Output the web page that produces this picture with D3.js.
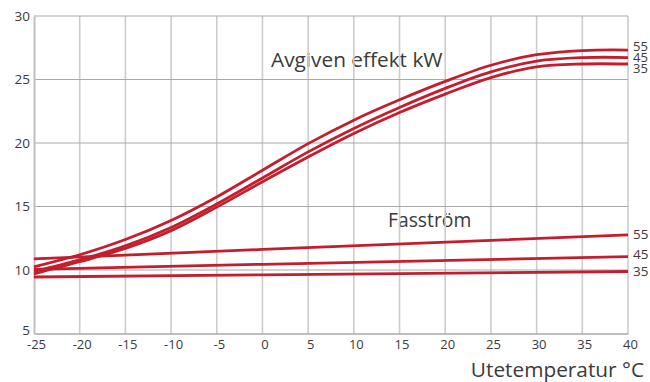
<!DOCTYPE html>
<html><head><meta charset="utf-8">
<script src="https://cdn.jsdelivr.net/npm/d3@7/dist/d3.min.js"></script>
<style>
body{margin:0;background:#fff;}
svg{display:block;font-family:"Open Sans",sans-serif;}
</style></head>
<body><svg id="c" width="650" height="382"></svg>
<script>
const temps = [-25,-20,-15,-10,-5,0,5,10,15,20,25,30,35,40];
const effekt55 = [10.25,11.2,12.4,13.9,15.75,17.85,19.95,21.8,23.4,24.85,26.12,26.95,27.28,27.32];
const effekt45 = [9.9,10.8,11.9,13.35,15.2,17.25,19.3,21.15,22.8,24.3,25.6,26.45,26.72,26.72];
const effekt35 = [9.7,10.65,11.7,13.1,14.95,16.95,18.9,20.75,22.4,23.85,25.15,26.0,26.22,26.22];
const fastemps = [-25,0,40];
const fas55 = [10.87,11.62,12.76];
const fas45 = [10.05,10.45,11.05];
const fas35 = [9.45,9.62,9.88];
const seriesLabels = ["55","45","35"];
const xTicks = [-25,-20,-15,-10,-5,0,5,10,15,20,25,30,35,40];
const yTicks = [5,10,15,20,25,30];
const effektTitle = "Avgiven effekt kW";
const fasTitle = "Fasström";
const xTitle = "Utetemperatur °C";

const svg = d3.select("#c");
const x = d3.scaleLinear().domain([-25,40]).range([34,628]);
const y = d3.scaleLinear().domain([5,30]).range([333.5,16]);
const red = "#c41e2e";
const txt = "#3a3a3a";

// text annotations drawn first (gridlines show through)
svg.append("text").attr("x",271).attr("y",67).attr("font-size",20.8).attr("fill",txt).text(effektTitle);
svg.append("text").attr("x",388).attr("y",227).attr("font-size",19.3).attr("fill",txt).text(fasTitle);

// vertical grid
svg.append("g").selectAll("line").data(xTicks.slice(1)).join("line")
  .attr("x1",d=>x(d)).attr("x2",d=>x(d)).attr("y1",y(30)).attr("y2",y(5))
  .attr("stroke","#cccccc").attr("stroke-width",1.6);
// horizontal grid
svg.append("g").selectAll("line").data(yTicks.slice(1)).join("line")
  .attr("x1",x(-25)).attr("x2",x(40)).attr("y1",d=>y(d)).attr("y2",d=>y(d))
  .attr("stroke","#a9a9a9").attr("stroke-width",1.1);

// axes
const xAxis = svg.append("g").attr("transform",`translate(0,${y(5)})`)
  .call(d3.axisBottom(x).tickValues(xTicks).tickSize(0).tickPadding(6).tickFormat(d=>d<0?"-"+Math.abs(d):d));
xAxis.select(".domain").attr("stroke","#a9a9a9").attr("stroke-width",1.6);
xAxis.selectAll("text").attr("font-size",13).attr("fill",txt).attr("font-family","Open Sans").attr("dx",2);
const yAxis = svg.append("g").attr("transform",`translate(${x(-25)},0)`)
  .call(d3.axisLeft(y).tickValues(yTicks).tickSize(0).tickPadding(4));
yAxis.select(".domain").attr("stroke","#c0c0c0").attr("stroke-width",2);
yAxis.selectAll("text").attr("font-size",13.5).attr("fill",txt).attr("font-family","Open Sans")
  .attr("dy",d=>d===5?"0.05em":"0.32em");

// lines
const lineE = d3.line().x((d,i)=>x(temps[i])).y(d=>y(d)).curve(d3.curveCatmullRom.alpha(0.5));
const lineF = d3.line().x((d,i)=>x(fastemps[i])).y(d=>y(d));
[effekt55,effekt45,effekt35].forEach(s=>{
  svg.append("path").attr("d",lineE(s)).attr("fill","none").attr("stroke",red).attr("stroke-width",2.8);
});
[fas55,fas45,fas35].forEach(s=>{
  svg.append("path").attr("d",lineF(s)).attr("fill","none").attr("stroke",red).attr("stroke-width",2.8);
});

// end labels
const effOff = [-4,-0.5,4.5];
[effekt55,effekt45,effekt35].forEach((s,i)=>{
  svg.append("text").attr("x",633).attr("y",y(s[s.length-1])+effOff[i]).attr("dy","0.35em")
    .attr("font-size",13).attr("fill",txt).text(seriesLabels[i]);
});
const fasOff = [-1,-2.5,-0.5];
[fas55,fas45,fas35].forEach((s,i)=>{
  svg.append("text").attr("x",633).attr("y",y(s[s.length-1])+fasOff[i]).attr("dy","0.35em")
    .attr("font-size",13.5).attr("fill",txt).text(seriesLabels[i]);
});

svg.append("text").attr("x",644).attr("y",377).attr("text-anchor","end").attr("font-size",20.8).attr("fill",txt).text(xTitle);
</script></body></html>
